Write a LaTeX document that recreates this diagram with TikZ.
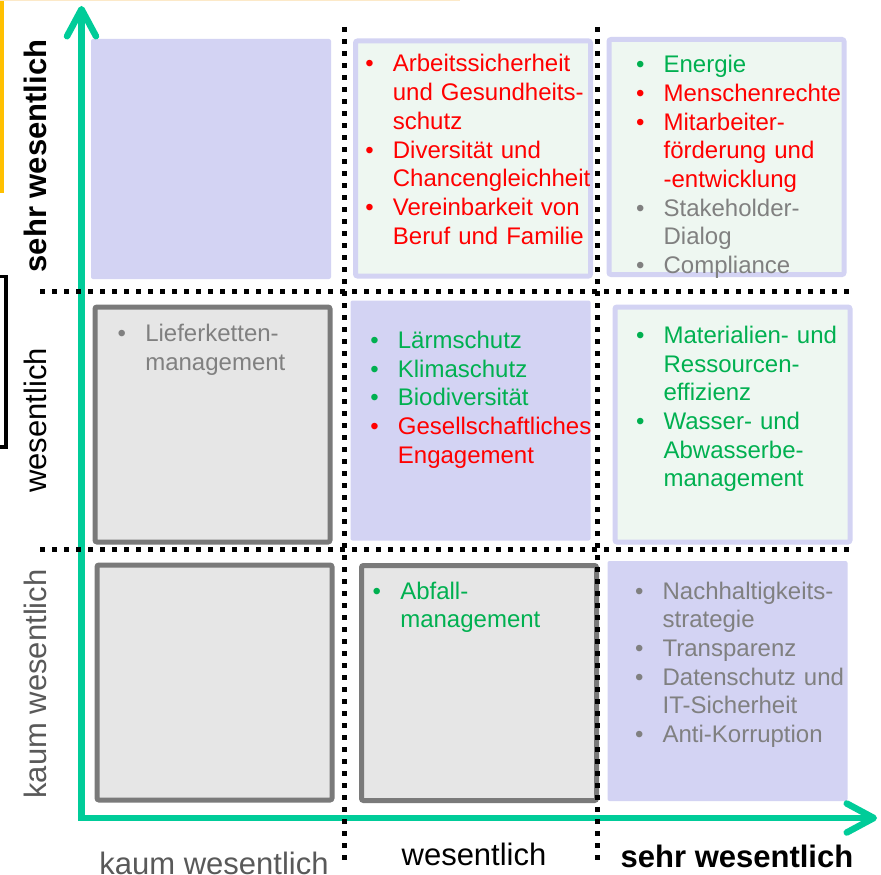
\documentclass[tikz,border=0pt]{standalone}
\usepackage{fontspec}
\setmainfont{Liberation Sans}
\usepackage{xcolor}
\usetikzlibrary{arrows.meta, positioning}

\definecolor{lav}{HTML}{D3D3F3}
\definecolor{mint}{HTML}{EEF7F1}
\definecolor{cellgray}{HTML}{E6E6E6}
\definecolor{bordergray}{HTML}{7A7A7A}
\definecolor{axgreen}{HTML}{00CC99}
\definecolor{itgreen}{HTML}{00B050}
\definecolor{itred}{HTML}{FF0000}
\definecolor{itgray}{HTML}{808080}
\definecolor{lblgray}{HTML}{595959}
\definecolor{topline}{HTML}{FCE9C8}
\definecolor{edgeorange}{HTML}{FFC000}

%% bullet item and its continuation line
\newcommand{\itm}[2]{\makebox[27.6pt][l]{\textcolor{#1}{•}}\textcolor{#1}{#2}}
\newcommand{\cnt}[2]{\hspace*{27.6pt}\textcolor{#1}{#2}}

\tikzset{
  %% plain lavender cell
  lavcell/.style={
    rectangle, rounded corners=2pt, fill=lav, draw=none,
    minimum width=240pt, minimum height=240pt, inner sep=0pt
  },
  %% mint cell with lavender frame
  mintcell/.style={
    rectangle, rounded corners=2pt, fill=mint, draw=lav,
    minimum width=235pt, minimum height=235pt, inner sep=0pt,
    line width=5pt
  },
  %% grey cell with dark frame
  graycell/.style={
    rectangle, rounded corners=2pt, fill=cellgray, draw=bordergray,
    minimum width=235pt, minimum height=235pt, inner sep=0pt,
    line width=5pt
  },
  %% bullet list inside a cell
  items/.style={
    anchor=base west, text width=260pt, align=left, inner sep=0pt,
    font=\fontsize{24}{28.7}\selectfont
  },
  %% axis label
  axlbl/.style={
    anchor=base, inner sep=0pt, font=\fontsize{31}{36}\selectfont
  },
  %% dotted separator
  sep/.style={draw=black, line width=5pt, dash pattern=on 5pt off 7pt},
  %% green axis
  axis/.style={
    draw=axgreen, line width=6.5pt,
    {Straight Barb[length=27pt, width=29pt, round]}-%
    {Straight Barb[length=27pt, width=29pt, round]}
  },
}

\begin{document}
\begin{tikzpicture}[x=1pt, y=-1pt]

  \useasboundingbox (0,0) rectangle (881,875);

  %% cut-off bits at the left edge
  \fill[fill=edgeorange] (0,0) rectangle (3.5,193);
  \draw[draw=topline, line width=1.5pt] (0,0.75) -- (460,0.75);
  \draw[line width=3.5pt] (-6,276.5) -- (6,276.5) -- (6,447) -- (-6,447);

  %% top row
  \node[lavcell]  (c11) at (211,159)     {};
  \node[mintcell] (c12) at (473,158.5)   {};
  \node[mintcell] (c13) at (726.5,157)   {};

  %% middle row
  \node[graycell] (c21) at (212.5,424.5) {};
  \node[lavcell]  (c22) at (470.5,420.5) {};
  \node[mintcell] (c23) at (732.5,424.5) {};

  %% bottom row
  \node[graycell] (c31) at (214.5,682.5) {};
  \node[graycell] (c32) at (479,683)     {};
  \node[lavcell]  (c33) at (727.5,681)   {};

  %% axes
  \coordinate (ytop)   at (81.5,6);
  \coordinate (origin) at (81.5,818);
  \coordinate (xend)   at (877,818);
  \draw[axis] (ytop) -- (origin) -- (xend);

  %% dotted separators
  \draw[sep] (40,291) -- (852,291);
  \draw[sep] (40,549) -- (852,549);
  \draw[sep] (344.5,27) -- (344.5,862);
  \draw[sep] (597,27) -- (597,862);

  %% cell texts
  \node[items] (t12) at (365.1,72)
    {\itm{itred}{Arbeitssicherheit}\\
     \cnt{itred}{und Gesundheits-}\\
     \cnt{itred}{schutz}\\
     \itm{itred}{Diversität und}\\
     \cnt{itred}{Chancengleichheit}\\
     \itm{itred}{Vereinbarkeit von}\\
     \cnt{itred}{Beruf und Familie}};

  \node[items] (t13) at (635.8,72.7)
    {\itm{itgreen}{Energie}\\
     \itm{itred}{Menschenrechte}\\
     \itm{itred}{Mitarbeiter-}\\
     \cnt{itred}{förderung und}\\
     \cnt{itred}{-entwicklung}\\
     \itm{itgray}{Stakeholder-}\\
     \cnt{itgray}{Dialog}\\
     \itm{itgray}{Compliance}};

  \node[items] (t21) at (117.5,341.7)
    {\itm{itgray}{Lieferketten-}\\
     \cnt{itgray}{management}};

  \node[items] (t22) at (370.1,348.3)
    {\itm{itgreen}{Lärmschutz}\\
     \itm{itgreen}{Klimaschutz}\\
     \itm{itgreen}{Biodiversität}\\
     \itm{itred}{Gesellschaftliches}\\
     \cnt{itred}{Engagement}};

  \node[items] (t23) at (635.8,343.3)
    {\itm{itgreen}{Materialien- und}\\
     \cnt{itgreen}{Ressourcen-}\\
     \cnt{itgreen}{effizienz}\\
     \itm{itgreen}{Wasser- und}\\
     \cnt{itgreen}{Abwasserbe-}\\
     \cnt{itgreen}{management}};

  \node[items] (t32) at (372.5,599)
    {\itm{itgreen}{Abfall-}\\
     \cnt{itgreen}{management}};

  \node[items] (t33) at (634.8,599)
    {\itm{itgray}{Nachhaltigkeits-}\\
     \cnt{itgray}{strategie}\\
     \itm{itgray}{Transparenz}\\
     \itm{itgray}{Datenschutz und}\\
     \cnt{itgray}{IT-Sicherheit}\\
     \itm{itgray}{Anti-Korruption}};

  %% axis labels
  \node[axlbl, rotate=90, font=\fontsize{31}{36}\selectfont\bfseries]
    (ysehr) at (46.5,156) {sehr wesentlich};
  \node[axlbl, rotate=90] (ywes)  at (46.5,420.5) {wesentlich};
  \node[axlbl, rotate=90, text=lblgray] (ykaum) at (46.5,684) {kaum wesentlich};

  \node[axlbl, text=lblgray] (xkaum) at (214,874) {kaum wesentlich};
  \node[axlbl] (xwes) at (474,865) {wesentlich};
  \node[axlbl, font=\fontsize{31}{36}\selectfont\bfseries]
    (xsehr) at (737,867) {sehr wesentlich};

\end{tikzpicture}
\end{document}
